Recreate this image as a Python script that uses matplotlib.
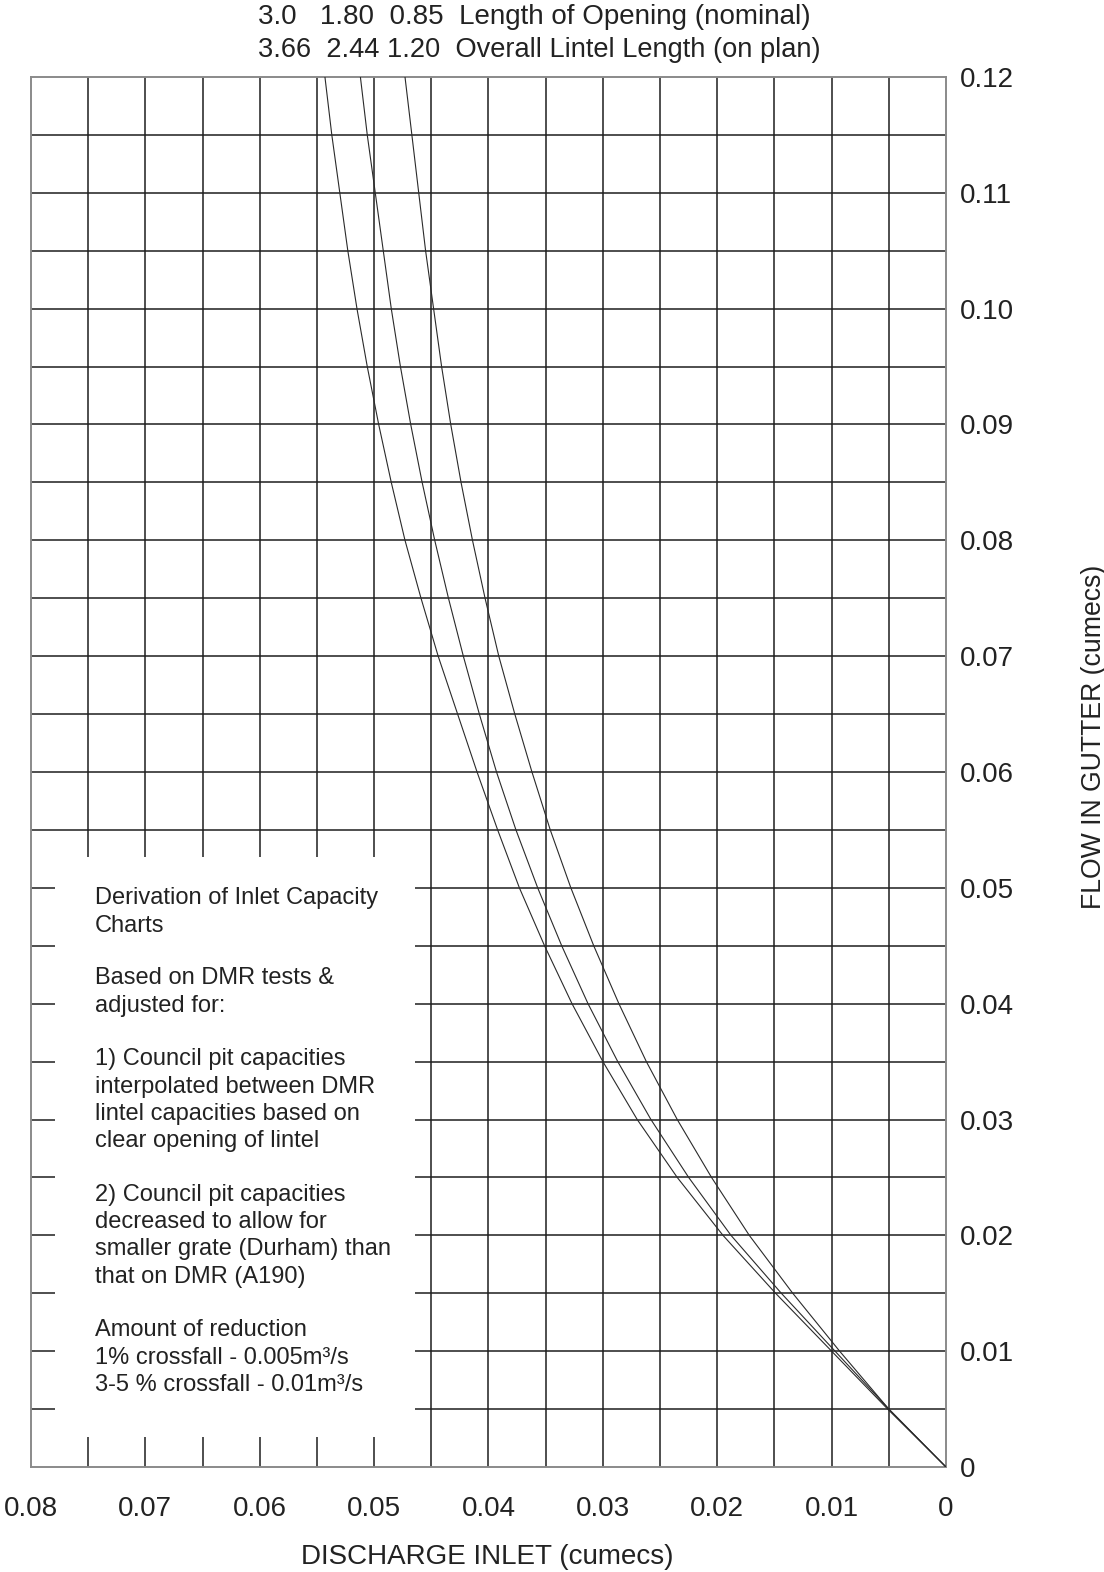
from matplotlib import pyplot as plt
from matplotlib.patches import Rectangle
import numpy as np

plt.rcParams['font.family'] = ['Liberation Sans', 'DejaVu Sans']

# flow in gutter (cumecs), every 0.005
flow = [0, 0.005, 0.010, 0.015, 0.020, 0.025, 0.030, 0.035, 0.040, 0.045, 0.050, 0.055,
        0.060, 0.065, 0.070, 0.075, 0.080, 0.085, 0.090, 0.095, 0.100, 0.105, 0.110, 0.115, 0.120]

# discharge inlet (cumecs)
inlet_300 = [0, 0.0051, 0.0100, 0.0149, 0.0195, 0.0235, 0.0270, 0.0300, 0.0327, 0.0351, 0.0373, 0.0392,
             0.0410, 0.0427, 0.0444, 0.0459, 0.0473, 0.0485, 0.0496, 0.0506, 0.0515, 0.0523, 0.0530, 0.0537, 0.0543]
inlet_180 = [0, 0.0050, 0.0097, 0.0144, 0.0188, 0.0225, 0.0258, 0.0287, 0.0313, 0.0336, 0.0357, 0.0376,
             0.0393, 0.0408, 0.0422, 0.0435, 0.0447, 0.0458, 0.0468, 0.0477, 0.0485, 0.0492, 0.0499, 0.0506, 0.0512]
inlet_085 = [0, 0.0050, 0.0093, 0.0134, 0.0172, 0.0205, 0.0235, 0.0262, 0.0286, 0.0308, 0.0328, 0.0346,
             0.0362, 0.0377, 0.0391, 0.0403, 0.0414, 0.0424, 0.0433, 0.0441, 0.0448, 0.0455, 0.0461, 0.0467, 0.0473]

x_ticks = [0.08, 0.07, 0.06, 0.05, 0.04, 0.03, 0.02, 0.01, 0]
x_labels = ['0.08', '0.07', '0.06', '0.05', '0.04', '0.03', '0.02', '0.01', '0']
y_ticks = [0, 0.01, 0.02, 0.03, 0.04, 0.05, 0.06, 0.07, 0.08, 0.09, 0.10, 0.11, 0.12]
y_labels = ['0', '0.01', '0.02', '0.03', '0.04', '0.05', '0.06', '0.07', '0.08', '0.09', '0.10', '0.11', '0.12']

note_lines = [
    'Derivation of Inlet Capacity', 'Charts', '',
    'Based on DMR tests &', 'adjusted for:', '',
    '1) Council pit capacities', 'interpolated between DMR', 'lintel capacities based on', 'clear opening of lintel', '',
    '2) Council pit capacities', 'decreased to allow for', 'smaller grate (Durham) than', 'that on DMR (A190)', '',
    'Amount of reduction', '1% crossfall - 0.005m³/s', '3-5 % crossfall - 0.01m³/s',
]

W, H = 1104, 1572
fig = plt.figure(figsize=(W / 100, H / 100), dpi=100)
ax = fig.add_axes([31 / W, 1 - 1467 / H, (946 - 31) / W, (1467 - 77) / H])

grid_col = '#1e1e1e'
for gx in np.arange(0.005, 0.08, 0.005):
    ax.axvline(gx, color=grid_col, lw=1.1, zorder=1)
for gy in np.arange(0.005, 0.12, 0.005):
    ax.axhline(gy, color=grid_col, lw=1.1, zorder=1)

# white panel for the notes
ax.add_patch(Rectangle((0.0464, 0.0026), 0.0779 - 0.0464, 0.0527 - 0.0026,
                       facecolor='white', edgecolor='none', zorder=2))

for xs in (inlet_300, inlet_180, inlet_085):
    ax.plot(xs, flow, color='#2a2a2a', lw=0.8, zorder=3)

ax.set_xlim(0.08, 0)
ax.set_ylim(0, 0.12)
ax.yaxis.tick_right()
ax.set_xticks(x_ticks)
ax.set_xticklabels(x_labels)
ax.set_yticks(y_ticks)
ax.set_yticklabels(y_labels)
ax.tick_params(length=0, labelsize=20, colors='#222222')
ax.tick_params(axis='x', pad=21)
ax.tick_params(axis='y', pad=10)
for s in ax.spines.values():
    s.set_color('#8a8a8a')
    s.set_linewidth(1.4)

fig.text(487 / W, 1 - 1557 / H, 'DISCHARGE INLET (cumecs)', ha='center', va='center',
         fontsize=20, color='#222222')
fig.text(1094 / W, 1 - 737 / H, 'FLOW IN GUTTER (cumecs)', ha='center', va='center',
         rotation=90, fontsize=19.2, color='#222222')

# header rows
fig.text(258 / W, 1 - 17 / H, '3.0   1.80  0.85  Length of Opening (nominal)',
         ha='left', va='center', fontsize=20, color='#222222')
fig.text(258 / W, 1 - 50 / H, '3.66  2.44 1.20  Overall Lintel Length (on plan)',
         ha='left', va='center', fontsize=19.6, color='#222222')

y_px = 898
for line in note_lines:
    if line == '':
        y_px += 25.5
        continue
    fig.text(95 / W, 1 - y_px / H, line, ha='left', va='center', fontsize=17, color='#222222')
    y_px += 27.5

fig.savefig('out.png', dpi=100)
